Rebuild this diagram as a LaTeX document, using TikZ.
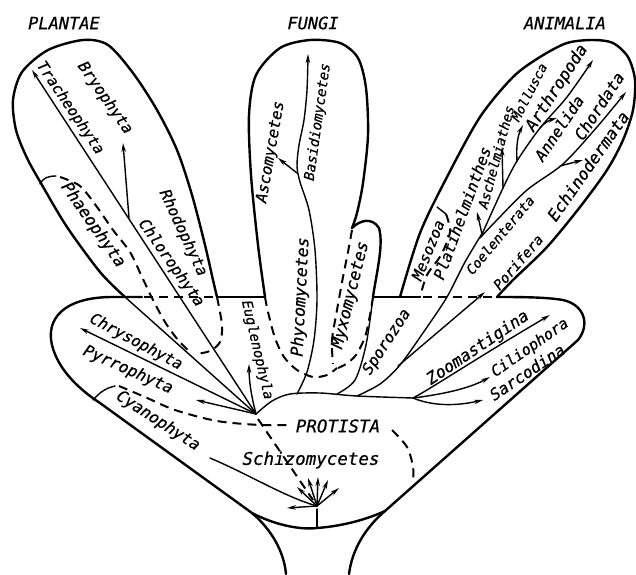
\documentclass[tikz,border=0pt]{standalone}
\usepackage{fontspec}
\newfontfamily\lblfont{DejaVu Sans Mono}[FakeBold=0.6]
\usetikzlibrary{arrows.meta}
\newcommand\fsz[1]{\fontsize{#1}{#1}\selectfont}
\begin{document}
\begin{tikzpicture}[x=1pt,y=-1pt,
  outline/.style={line width=2.4pt, line join=round, line cap=round},
  branch/.style={line width=1.4pt, line cap=round},
  arr/.style={branch, -{Stealth[length=9pt,width=4.5pt]}},
  dsh/.style={line width=2pt, dash pattern=on 9pt off 6pt},
  lbl/.style={font=\lblfont\itshape\fsz{#1}, inner sep=0pt},
  lbl/.default=16]
\useasboundingbox (0,0) rectangle (636,574);
% key points
\coordinate (O) at (256,414);
\coordinate (M) at (317,506);
\coordinate (PL) at (125,297);
\coordinate (PR) at (217,297);
\coordinate (FL) at (265,297);
\coordinate (FR) at (373,297);
\coordinate (AL) at (400,297);
\coordinate (AR) at (497,297);
\coordinate (LL) at (252,513);
\coordinate (RL) at (385,511);
\coordinate (J) at (413,398);
\coordinate (T) at (483,232);

% ---- bottom (Protista) outline
\draw[outline] (142,297) -- (110,297) .. controls (62,298) and (46,320) .. (52,345)
   .. controls (58,370) and (80,390) .. (100,403) -- (LL);
\draw[outline] (LL) .. controls (272,530) and (284,552) .. (286,574);
\draw[outline] (349,574) .. controls (352,550) and (365,528) .. (RL);
\draw[outline] (RL) -- (578,340) .. controls (590,325) and (585,305) .. (563,300)
   .. controls (545,297) and (520,297) .. (AR);
\draw[outline] (LL) .. controls (275,525) and (300,530) .. (317,528)
   .. controls (345,526) and (370,518) .. (RL);
% horizontal line pieces
\draw[outline] (PR) -- (FL);
\draw[outline] (FR) -- (AL) -- (420,297);
\draw[dsh] (144,297) -- (PR);
\draw[dsh] (423,297) -- (AR);

% ---- Plantae lobe
\draw[outline] plot[smooth] coordinates {(PL) (100,272) (67,227) (42,185) (27,158) (16,130)
   (13,100) (22,72) (48,50) (83,40) (108,45) (133,73) (157,110) (177,150) (192,195)
   (205,245) (213,280) (PR)};
\draw[branch] (PL) -- (O);
\draw[dsh] plot[smooth] coordinates {(PR) (222,325) (220,342) (210,351) (196,354)};
\draw[branch] (40,184) .. controls (43,178) and (48,176) .. (56,176);
\draw[dsh] plot[smooth] coordinates {(60,177) (80,186) (97,207) (113,230) (130,252)
   (142,277) (152,298) (165,322) (178,340) (190,352)};
\draw[arr] (O) -- (32,70);
\draw[arr] (129,218) -- (123,143);
\draw[arr] (O) -- (80,328);
\draw[arr] (O) -- (196,400);
\draw[arr] (O) .. controls (251,395) and (249,380) .. (249,364);

% ---- Fungi lobe
\draw[outline] plot[smooth] coordinates {(FL) (258,245) (251,175) (249,115) (256,75)
   (280,48) (310,40) (340,43) (358,58) (366,88) (368,135) (363,183) (357,213) (352,228)}
   .. controls (360,220) and (372,217) .. (379,228) .. controls (384,245) and (376,275) .. (FR);
\draw[dsh] plot[smooth] coordinates {(FL) (268,312) (275,338) (284,357) (297,370) (313,377)
   (327,375) (337,368)};
\draw[dsh] plot[smooth] coordinates {(352,230) (348,252) (343,277) (337,310) (332,340) (333,364)};
\draw[dsh] plot[smooth] coordinates {(FR) (370,315) (365,337) (356,355) (346,364) (338,368)};
\draw[arr] plot[smooth] coordinates {(297,394) (307,372) (314,340) (317,300) (315,250)
   (309,210) (300,182) (297,166) (299,145) (304,120) (307,90) (308,54)};
\draw[arr] (297,173) -- (278,158);

% ---- Animalia lobe
\draw[outline] plot[smooth] coordinates {(AL) (420,233) (447,177) (480,117) (513,77) (540,57)
   (567,43) (593,40) (613,43) (628,57) (635,80) (633,110) (623,140) (607,170) (580,207)
   (547,247) (513,280) (AR)};
\draw[branch] (437,207) -- (446,214);
\draw[dsh] plot[smooth] coordinates {(446,214) (450,232) (441,255) (427,275) (420,297)};

% ---- Protista branches
\draw[branch] plot[smooth] coordinates {(O) (272,401) (290,394) (320,393) (357,396) (J)};
\draw[branch] plot[smooth] coordinates {(337,394) (355,380) (366,345) (FR)};
\draw[branch] plot[smooth] coordinates {(357,396) (380,384) (400,365) (425,330) (447,297)
   (465,262) (T)};
\draw[arr] (398,366) -- (485,292);
\draw[arr] (482,234) -- (477,212);
\draw[arr] plot[smooth] coordinates {(T) (503,188) (517,161) (540,128) (567,97) (593,60)};
\draw[arr] (503,188) -- (502,147);
\draw[arr] (517,161) .. controls (516,145) and (518,135) .. (523,125);
\draw[arr] (540,128) .. controls (545,122) and (550,120) .. (557,118);
\draw[arr] plot[smooth] coordinates {(480,238) (495,222) (527,190) (563,164) (597,127) (626,92)};
\draw[arr] (560,166) -- (583,160);
\draw[arr] (J) .. controls (432,388) and (480,356) .. (550,315);
\draw[arr] (J) .. controls (445,394) and (470,388) .. (490,377);
\draw[arr] (J) .. controls (430,405) and (452,407) .. (483,400);

% ---- Monera
\draw[branch] (93,400) .. controls (100,392) and (106,388) .. (115,386);
\draw[dsh] plot[smooth] coordinates {(119,386) (145,397) (175,410) (217,421) (260,425) (290,425)};
\draw[dsh] plot[smooth] coordinates {(392,430) (407,447) (413,467) (413,483)};
\draw[dsh] (258,419) -- (313,500);
\draw[branch] (210,458) .. controls (250,475) and (285,497) .. (M);
\draw[arr] (M) -- (287,508);
\draw[arr] (M) -- (297,487);
\draw[arr] (M) -- (308,478);
\draw[arr] (M) -- (318,477);
\draw[arr] (M) -- (328,480);
\draw[arr] (M) -- (339,488);
\draw[branch] (317,509) -- (317,528);

% ---- labels
\node[lbl=17] (plantae) at (64,23) {PLANTAE};
\node[lbl=17] (fungi) at (313,23) {FUNGI};
\node[lbl=17] (animalia) at (565,23) {ANIMALIA};
\node[lbl=15, rotate=-56] (trach) at (70,108) {Tracheophyta};
\node[lbl=15.5, rotate=-55] (bryo) at (105,98) {Bryophyta};
\node[lbl=16.5, rotate=-55] (phaeo) at (93,225) {Phaeophyta};
\node[lbl=15.5, rotate=-65] (rhodo) at (183,233) {Rhodophyta};
\node[lbl=15.5, rotate=-55] (chloro) at (171,263) {Chlorophyta};
\node[lbl=15.5, rotate=-28] (chryso) at (136,342) {Chrysophyta};
\node[lbl=16, rotate=-24] (pyrro) at (128,370) {Pyrrophyta};
\node[lbl=16, rotate=-33] (cyano) at (158,421) {Cyanophyta};
\node[lbl=14, rotate=-77] (eugl) at (257,350) {Euglenophyla};
\node[lbl=16.5, rotate=87] (phyco) at (301,297) {Phycomycetes};
\node[lbl=16.5, rotate=76] (myxo) at (351,295) {Myxomycetes};
\node[lbl=15.5, rotate=80] (asco) at (271,152) {Ascomycetes};
\node[lbl=14, rotate=82] (basidio) at (318,122) {Basidiomycetes};
\node[lbl=15.5, rotate=57] (sporo) at (387,342) {Sporozoa};
\node[lbl=15, rotate=68] (meso) at (428,250) {Mesozoa};
\node[lbl=15.5, rotate=70] (platy) at (462,213) {Platihelminthes};
\node[lbl=13.5, rotate=75] (aschel) at (496,157) {Aschelmiathes};
\node[lbl=13, rotate=63] (mollu) at (529,92) {Mollusca};
\node[lbl=16.5, rotate=57] (arthro) at (557,88) {Arthropoda};
\node[lbl=15.5, rotate=56] (anne) at (559,128) {Annelida};
\node[lbl=16, rotate=57] (chord) at (599,106) {Chordata};
\node[lbl=16.5, rotate=55] (echino) at (588,166) {Echinodermata};
\node[lbl=13.5, rotate=50] (coel) at (500,235) {Coelenterata};
\node[lbl=14, rotate=49] (pori) at (518,262) {Porifera};
\node[lbl=16.5, rotate=34] (zoo) at (478,348) {Zoomastigina};
\node[lbl=15, rotate=35] (cilio) at (530,348) {Ciliophora};
\node[lbl=16, rotate=34] (sarco) at (527,372) {Sarcodina};
\node[lbl=17.5] (protista) at (338,426) {PROTISTA};
\node[lbl=17.5] (schizo) at (311,460) {Schizomycetes};
\end{tikzpicture}
\end{document}
